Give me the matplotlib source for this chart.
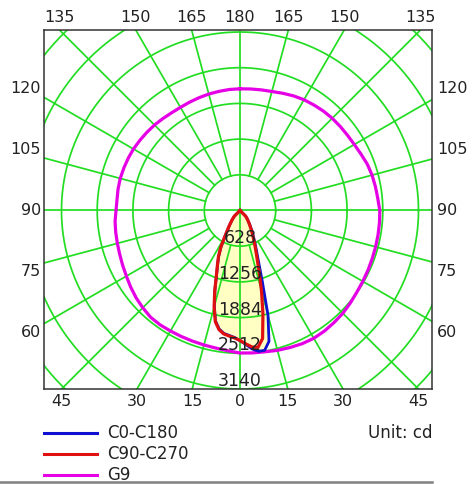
import numpy as np
import matplotlib
matplotlib.use('Agg')
import matplotlib.pyplot as plt

# luminous intensity, cd; gamma measured from nadir, positive = right half
beam_gamma = [-50, -45, -40, -35, -30, -27.5, -25, -22.5, -20, -17.5, -15, -12.5, -10, -7.5, -5, -2.5,
              0, 2.5, 5, 7.5, 10, 12.5, 15, 17.5, 20, 22.5, 25, 30, 35, 40, 45, 50]
c0_c180 = [0, 138, 216, 328, 538, 725, 888, 1028, 1204, 1465, 1745, 1990, 2115, 2180, 2205, 2235,
           2290, 2360, 2445, 2498, 2498, 2357, 1900, 1300, 950, 756, 616, 430, 295, 208, 140, 0]
c90_c270 = [0, 141, 220, 334, 545, 733, 897, 1038, 1214, 1478, 1759, 2005, 2128, 2190, 2216, 2243,
            2287, 2348, 2410, 2427, 2287, 1865, 1460, 1108, 862, 700, 580, 405, 281, 202, 141, 0]

g9_gamma = list(range(-180, 185, 5))
g9 = [2141, 2137, 2128, 2121, 2111, 2102, 2095, 2098, 2111, 2127, 2139, 2151, 2164, 2171, 2176,
      2181, 2178, 2172, 2181, 2206, 2220, 2234, 2252, 2278, 2308, 2348, 2387, 2419, 2449, 2454,
      2447, 2445, 2445, 2449, 2457, 2477,
      2507,
      2515, 2524, 2547, 2565, 2586, 2596, 2589, 2573, 2558, 2533, 2508, 2494, 2484, 2475, 2470,
      2466, 2463, 2459, 2433, 2419, 2405, 2383, 2348, 2322, 2308, 2301, 2294, 2283, 2266, 2250,
      2225, 2195, 2167, 2155, 2146, 2141]

ring_step = 628
ring_labels = ['628', '1256', '1884', '2512', '3140']
top_labels = [135, 150, 165, 180, 165, 150, 135]
side_labels = [120, 105, 90, 75, 60]
bottom_labels = [45, 30, 15, 0, 15, 30, 45]

series_names = ['C0-C180', 'C90-C270', 'G9']
series_colors = ['#1010d0', '#e01010', '#e600e6']
grid_color = '#22dd22'
fill_color = '#ffffc4'

PX = 628 / 35.7  # cd per pixel of the picture


def to_xy(gamma, vals):
    g = np.radians(np.asarray(gamma, dtype=float))
    v = np.asarray(vals, dtype=float)
    return v * np.sin(g), -v * np.cos(g)


fig = plt.figure(figsize=(4.73, 4.84), dpi=100)
ax = fig.add_axes([44 / 473, 95 / 484, 388 / 473, 359 / 484])
ytop = 180.5 * PX
ax.set_xlim(-196 * PX, 192 * PX)
ax.set_ylim(-5 * ring_step, ytop)
ax.set_xticks([])
ax.set_yticks([])
for s in ax.spines.values():
    s.set_color('#333333')
    s.set_linewidth(1.1)
    s.set_zorder(6)

# filled beam
for vals in [c0_c180, c90_c270]:
    x, y = to_xy(beam_gamma, vals)
    ax.fill(x, y, color=fill_color, lw=0, zorder=0.5)

# grid
t = np.linspace(0, 2 * np.pi, 361)
for n in range(1, 9):
    ax.plot(n * ring_step * np.cos(t), n * ring_step * np.sin(t), color=grid_color, lw=1.25, zorder=1)
for a in range(0, 360, 15):
    r0 = 0 if a % 90 == 0 else ring_step
    ar = np.radians(a)
    ax.plot([r0 * np.cos(ar), 9000 * np.cos(ar)], [r0 * np.sin(ar), 9000 * np.sin(ar)],
            color=grid_color, lw=1.25, zorder=1)

# curves
x, y = to_xy(g9_gamma, g9)
ax.plot(x, y, color=series_colors[2], lw=2.3, zorder=2)
x, y = to_xy(beam_gamma, c0_c180)
ax.plot(x, y, color=series_colors[0], lw=2.0, zorder=3)
x, y = to_xy(beam_gamma, c90_c270)
ax.plot(x, y, color=series_colors[1], lw=2.3, zorder=4)

# intensity labels
for i, lab in enumerate(ring_labels):
    ax.text(0, -(i + 1) * ring_step + 3 * PX, lab, ha='center', va='baseline', fontsize=12.5,
            color='#222222', zorder=5)

# angle labels
fs = 11.5
n = len(top_labels)
for i, lab in enumerate(top_labels):
    side = -1 if i < n // 2 else 1
    xx = side * ytop * np.tan(np.radians(180 - lab))
    ax.text(xx, ytop + 12 * PX, str(lab), ha='center', va='center', fontsize=fs,
            color='#222222', clip_on=False)
for i, lab in enumerate(bottom_labels):
    side = -1 if i < n // 2 else 1
    xx = side * 5 * ring_step * np.tan(np.radians(lab))
    ax.text(xx, -5 * ring_step - 13 * PX, str(lab), ha='center', va='center', fontsize=fs,
            color='#222222', clip_on=False)
for lab in side_labels:
    yy = (lab - 90) / 15 * 61 * PX
    ax.text(-199 * PX, yy, str(lab), ha='right', va='center', fontsize=fs, color='#222222',
            clip_on=False)
    ax.text(197 * PX, yy, str(lab), ha='left', va='center', fontsize=fs, color='#222222',
            clip_on=False)

# legend and footer, in picture pixels
lg = fig.add_axes([0, 0, 1, 1], zorder=-1)
lg.set_xlim(0, 473)
lg.set_ylim(484, 0)
lg.axis('off')
for i, (name, col) in enumerate(zip(series_names, series_colors)):
    yy = 433 + i * 21
    lg.plot([44, 97], [yy, yy], color=col, lw=2.2)
    lg.text(107, yy, name, ha='left', va='center', fontsize=12, color='#222222')
lg.text(432, 433, 'Unit: cd', ha='right', va='center', fontsize=12, color='#222222')
lg.plot([0, 432], [481.5, 481.5], color='#808080', lw=1.8, zorder=5)

fig.savefig('out.png', dpi=100)
